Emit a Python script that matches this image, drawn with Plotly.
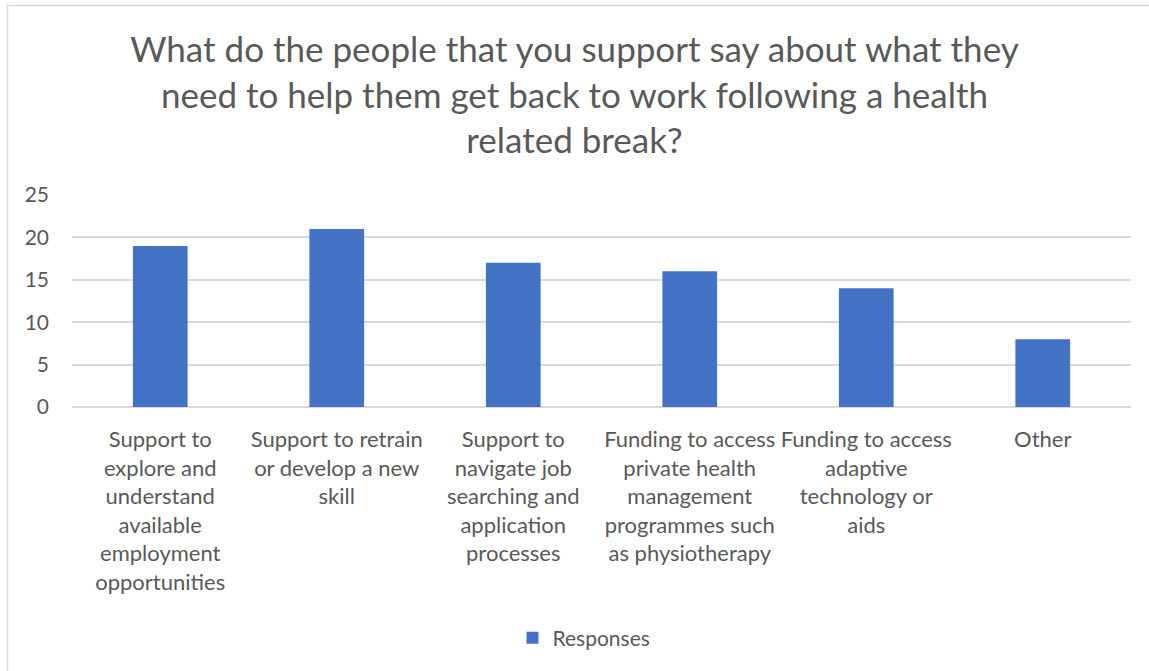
import plotly.graph_objects as go

categories = [
    "Support to<br>explore and<br>understand<br>available<br>employment<br>opportunities",
    "Support to retrain<br>or develop a new<br>skill",
    "Support to<br>navigate job<br>searching and<br>application<br>processes",
    "Funding to access<br>private health<br>management<br>programmes such<br>as physiotherapy",
    "Funding to access<br>adaptive<br>technology or<br>aids",
    "Other",
]
responses = [19, 21, 17, 16, 14, 8]
y_ticks = [0, 5, 10, 15, 20, 25]

W, H = 1149, 671
L, R, T, B = 72, 18, 195, 264
pw, ph = W - L - R, H - T - B

def px_x(p):
    return (p - L) / pw

def px_y(p):
    return (H - B - p) / ph

FONT = "Lato"
GREY = "#595959"

fig = go.Figure()
fig.add_trace(go.Bar(
    x=list(range(len(categories))), y=responses, name="Responses",
    marker=dict(color="#4472C4", line=dict(width=0)),
    showlegend=True,
))

fig.update_layout(
    width=W, height=H,
    margin=dict(l=L, r=R, t=T, b=B),
    paper_bgcolor="white", plot_bgcolor="white",
    bargap=0.69,
    font=dict(family=FONT, color=GREY, size=21),
    title=dict(
        text="What do the people that you support say about what they<br>need to help them get back to work following a health<br>related break?",
        x=0.5, xref="container", xanchor="center",
        y=1 - 62 / H, yref="container", yanchor="middle",
        font=dict(family=FONT, size=35, color=GREY),
    ),
    xaxis=dict(
        tickmode="array", tickvals=list(range(len(categories))), ticktext=categories,
        showgrid=False, zeroline=False, showline=False, ticks="",
        tickfont=dict(size=22, color=GREY), tickangle=0,
        range=[-0.5, len(categories) - 0.5],
        ticklabelstandoff=17,
    ),
    yaxis=dict(
        range=[0, 25], tickmode="array", tickvals=y_ticks,
        showgrid=True, gridcolor="#d9d9d9", gridwidth=1.5,
        zeroline=True, zerolinecolor="#d9d9d9", zerolinewidth=1.5,
        showline=False, ticks="", tickfont=dict(size=21, color=GREY),
        ticklabelstandoff=22,
    ),
    legend=dict(
        orientation="h", x=px_x(584), xanchor="center", xref="paper",
        y=px_y(638), yanchor="middle", yref="paper",
        font=dict(size=21, color=GREY),
        itemwidth=30,
    ),
    shapes=[dict(
        type="rect", xref="paper", yref="paper",
        x0=px_x(7.5), x1=px_x(W + 20), y0=px_y(H + 20), y1=px_y(5.5),
        line=dict(color="#d9d9d9", width=1.5), fillcolor="rgba(0,0,0,0)", layer="below",
    )],
)

fig.write_html("out.html")
